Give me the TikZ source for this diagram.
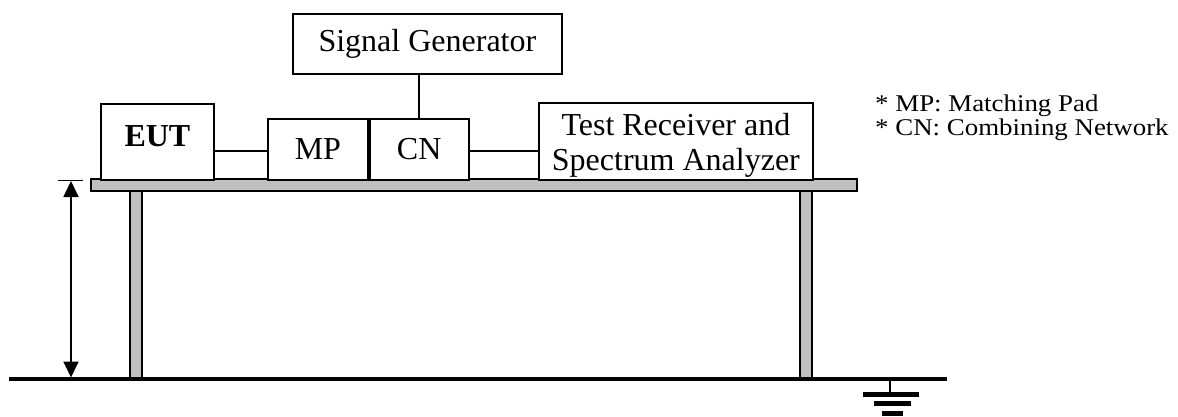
\documentclass[tikz,border=0pt]{standalone}
\usepackage{fontspec}
\setmainfont{Liberation Serif}
\newfontfamily\notefont{Liberation Serif}[FakeStretch=1.12]
\usepackage{tikz}
\usetikzlibrary{arrows.meta,positioning}
\definecolor{TableGray}{HTML}{C0C0C0}

\begin{document}
\begin{tikzpicture}[x=1pt,y=-1pt,
  box/.style={draw,line width=1.8pt,inner sep=0pt,align=center,fill=white,font=\fontsize{32}{35}\selectfont},
  wire/.style={line width=1.8pt},
  slab/.style={draw,line width=1.8pt,fill=TableGray},
  dim/.style={{Triangle[length=16pt,width=15pt]}-{Triangle[length=16pt,width=15pt]},line width=1.8pt},
  note/.style={anchor=base west,inner sep=0pt,font=\notefont\fontsize{24}{26}\selectfont}
]
  \useasboundingbox (0,0) rectangle (1178,417);

  % table and legs
  \draw[slab] (130,191) rectangle (142,379);
  \draw[slab] (800,191) rectangle (812,379);
  \draw[slab] (91,179) rectangle (857,191);

  % equipment on the table
  \node[box,anchor=north west,minimum width=113,minimum height=76] (eut) at (100,103) {\rule[-12pt]{0pt}{12pt}\textbf{EUT}};
  \node[box,anchor=north west,minimum width=100,minimum height=61] (mp) at (267,118) {MP};
  \node[box,right=0pt of mp,minimum width=99,minimum height=61] (cn) {CN};
  \node[box,anchor=north west,minimum width=269,minimum height=60] (siggen) at (292,13) {Signal Generator};
  \node[box,anchor=north west,minimum width=274,minimum height=77] (receiver) at (538,102) {\rule{0pt}{31pt}Test Receiver and\\Spectrum Analyzer};

  \coordinate (wirey) at (0,151);
  \draw[wire] (eut.east |- wirey) -- (mp.west |- wirey);
  \draw[wire] (cn.east |- wirey) -- (receiver.west |- wirey);
  \draw[wire] (cn.north |- siggen.south) -- (cn.north);

  % ground plane and height
  \draw[line width=3.5pt] (9,379) -- (947,379);
  \coordinate (dtop) at (71,181);
  \coordinate (dbot) at (71,377.5);
  \draw[wire] (58,180.5) -- (83,180.5);
  \draw[dim] (dtop) -- (dbot);

  % earth symbol
  \coordinate (gnd) at (890,379);
  \draw[line width=2.5pt] (gnd) -- ++(0,15);
  \draw[line width=5pt] (863,394.5) -- (919,394.5);
  \draw[line width=5pt] (874,403.5) -- (911,403.5);
  \draw[line width=5pt] (882,413) -- (903,413);

  % notes
  \node[note] (mpnote) at (875,112) {* MP: Matching Pad};
  \node[note] (cnnote) at (875,136) {* CN: Combining Network};
\end{tikzpicture}
\end{document}
